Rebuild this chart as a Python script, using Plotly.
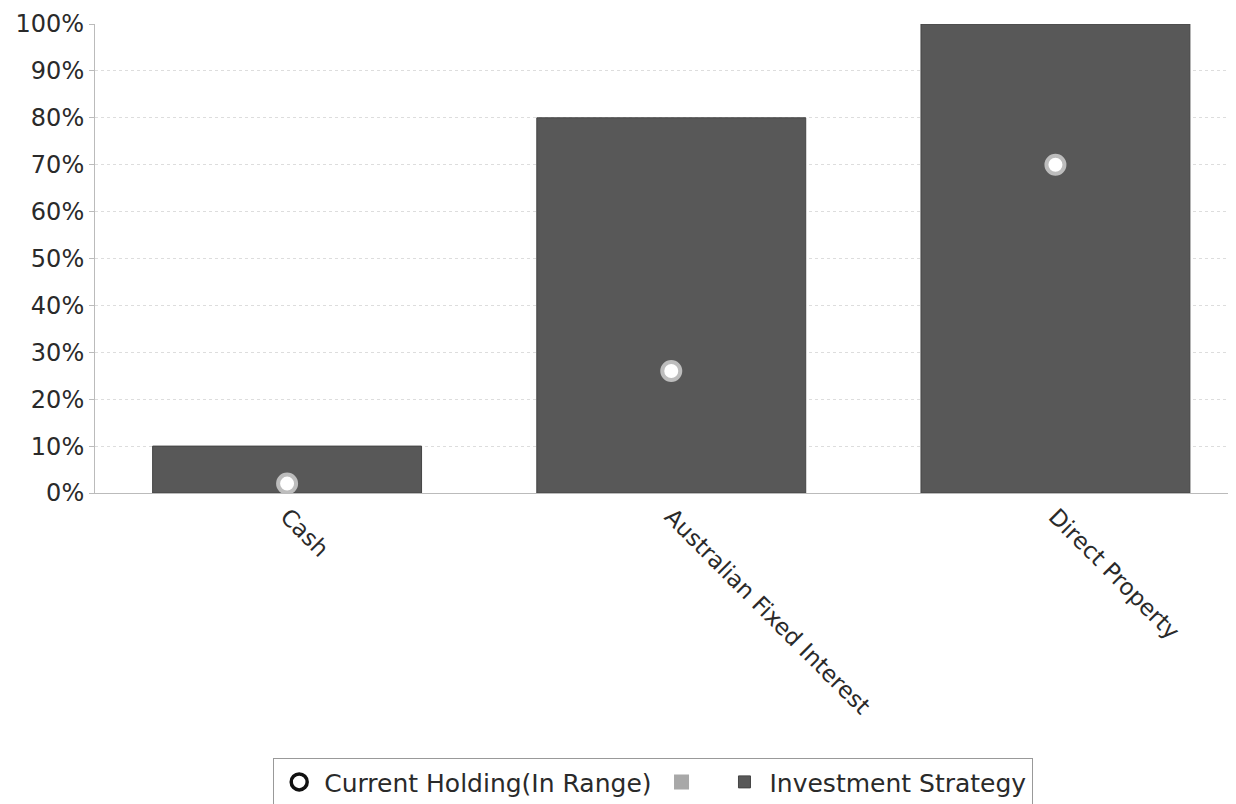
import plotly.graph_objects as go

categories = ["Cash", "Australian Fixed Interest", "Direct Property"]
strategy = [10, 80, 100]
holding = [2, 26, 70]
y_ticks = [0, 10, 20, 30, 40, 50, 60, 70, 80, 90, 100]
y_labels = [f"{v}%" for v in y_ticks]

FONT = "DejaVu Sans"
fig = go.Figure()
fig.add_trace(go.Bar(
    x=categories, y=strategy, name="Investment Strategy",
    marker=dict(color="#585858", line=dict(color="#444", width=1)),
    width=0.7, legendrank=3,
))
fig.add_trace(go.Scatter(
    x=categories, y=holding, mode="markers", showlegend=False,
    marker=dict(symbol="circle", size=18, color="white",
                line=dict(color="#bdbdbd", width=4)),
))
# legend-only entries
fig.add_trace(go.Scatter(
    x=[None], y=[None], mode="markers", name="Current Holding(In Range)",
    marker=dict(symbol="circle-open", size=16, color="#111", line=dict(width=3.5)),
    legendrank=1,
))
fig.add_trace(go.Scatter(
    x=[None], y=[None], mode="markers", name=" ",
    marker=dict(symbol="square", size=15, color="#a8a8a8"),
    legendrank=2,
))

fig.update_layout(
    width=1236, height=804,
    margin=dict(l=87, r=8, t=16, b=319, autoexpand=False),
    paper_bgcolor="white", plot_bgcolor="white",
    font=dict(family=FONT, size=24, color="#2a2a2a"),
    bargap=0.3,
    showlegend=True,
    legend=dict(
        orientation="h", xref="container", yref="container",
        x=0.522, xanchor="center", y=0.067, yanchor="top",
        bordercolor="#999", borderwidth=1, bgcolor="white",
        font=dict(family=FONT, size=25, color="#2a2a2a"),
        itemsizing="trace", itemwidth=40, tracegroupgap=0,
    ),
)
fig.update_xaxes(
    range=[-0.5, 2.47], tickangle=45, showgrid=False,
    showline=True, linecolor="#bbb", linewidth=1,
    tickfont=dict(family=FONT, size=23, color="#2a2a2a"),
    ticks="", automargin=False,
)
fig.update_yaxes(
    range=[0, 100], tickvals=y_ticks, ticktext=y_labels,
    showgrid=True, gridcolor="#ddd", griddash="dot", gridwidth=1,
    showline=True, linecolor="#bbb", linewidth=1,
    ticks="outside", ticklen=5, tickcolor="#bbb",
    tickfont=dict(family=FONT, size=24, color="#2a2a2a"),
    zeroline=False, automargin=False,
)
fig.write_html("out.html")
